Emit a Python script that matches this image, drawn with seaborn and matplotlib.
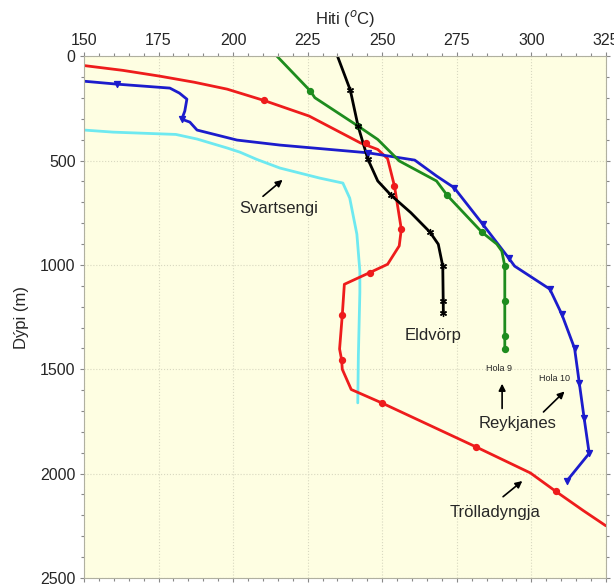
import numpy as np
import pandas as pd
import matplotlib
matplotlib.use('Agg')
import matplotlib.pyplot as plt
import seaborn as sns
from matplotlib.ticker import MultipleLocator

# Temperature (C) vs depth (m) profiles
trol_temp = [150, 163, 175.5, 187, 198, 210.3, 225.5, 242.6, 248.5, 251.8, 254.1, 256.4, 255.7, 251.8, 245.8,
             237.3, 236.6, 235.7, 236.4, 236.6, 239.6, 249.8, 281.3, 299.7, 308.2, 317.4, 325]
trol_depth = [45, 68, 96, 125, 158, 212, 287, 415, 447, 491, 622, 829, 909, 997, 1037,
              1093, 1242, 1403, 1456, 1500, 1597, 1661, 1871, 1997, 2085, 2177, 2250]
trol_mk_temp = [210.3, 244.6, 254.1, 256.4, 245.8, 236.6, 236.4, 249.8, 281.3, 308.2]
trol_mk_depth = [212, 415, 622, 829, 1037, 1242, 1456, 1661, 1871, 2085]

hola9_temp = [214.7, 225.9, 227.4, 241.9, 248.5, 255.7, 268.2, 271.8, 283.4, 288.4, 290.1, 291.1, 291.1, 291.1]
hola9_depth = [0, 167, 199, 335, 399, 502, 598, 667, 843, 900, 934, 1006, 1200, 1403]
hola9_mk_temp = [225.9, 241.9, 271.8, 283.4, 291.1, 291.1, 291.1, 291.1]
hola9_mk_depth = [167, 335, 667, 843, 1006, 1173, 1341, 1403]

eld_temp = [235, 239.3, 241.9, 245.2, 248.5, 253, 259.6, 266, 268.8, 270.3, 270.5]
eld_depth = [0, 163, 335, 494, 598, 667, 750, 843, 901, 1006, 1231]
eld_mk_temp = [239.3, 241.9, 245.2, 253, 266, 270.3, 270.3, 270.5]
eld_mk_depth = [163, 335, 494, 667, 843, 1006, 1173, 1231]

hola10_temp = [150, 161, 178.8, 182, 184.5, 183.8, 182.8, 185.5, 187.9, 201.3, 215.7, 245.2, 260.9, 268.2, 274.1,
               283.7, 292.4, 294.4, 306.2, 310.2, 314.5, 316.1, 317.7, 319.4, 311.9]
hola10_depth = [120, 134, 153, 177, 206, 263, 302, 316, 354, 402, 426, 463, 498, 574, 630,
                805, 967, 1006, 1116, 1236, 1400, 1568, 1734, 1903, 2035]
hola10_mk_temp = [161, 182.8, 245.2, 274.1, 283.7, 292.4, 306.2, 310.2, 314.5, 316.1, 317.7, 319.4, 311.9]
hola10_mk_depth = [134, 302, 463, 630, 805, 967, 1116, 1236, 1400, 1568, 1734, 1903, 2035]

svart_temp = [150, 159.8, 180.8, 187.9, 198, 202.3, 208, 215.7, 229, 236.8, 239.1, 241.5, 242.5, 242.5, 242, 241.8]
svart_depth = [354, 364, 375, 397, 440, 460, 495, 536, 584, 608, 680, 853, 1030, 1132, 1435, 1661]

x_ticks = [150, 175, 200, 225, 250, 275, 300, 325]
y_ticks = [0, 500, 1000, 1500, 2000, 2500]

sns.set_style('ticks')
plt.rcParams['font.family'] = ['Liberation Sans', 'DejaVu Sans']

fig = plt.figure(figsize=(6.14, 5.85), dpi=100)
ax = fig.add_axes([0.1368, 0.012, 0.850, 0.892])
ax.set_facecolor('#fefee2')

series = [
    (svart_temp, svart_depth, None, None, '#6ee9f0', None),
    (trol_temp, trol_depth, trol_mk_temp, trol_mk_depth, '#ee1c1c', 'o'),
    (hola10_temp, hola10_depth, hola10_mk_temp, hola10_mk_depth, '#1c1ccc', 'v'),
    (hola9_temp, hola9_depth, hola9_mk_temp, hola9_mk_depth, '#1e8c1e', 'o'),
    (eld_temp, eld_depth, eld_mk_temp, eld_mk_depth, 'black', (6, 2, 0)),
]
for t, d, mt, md, col, mk in series:
    sns.lineplot(x=t, y=d, sort=False, estimator=None, color=col, lw=2, ax=ax)
    if mt is not None:
        sns.scatterplot(x=mt, y=md, color=col, marker=mk, s=18, linewidth=1.0,
                        edgecolor=col, ax=ax, zorder=3)

ax.set_xlim(150, 325)
ax.set_ylim(2500, 0)
ax.set_xticks(x_ticks)
ax.set_yticks(y_ticks)
ax.xaxis.set_minor_locator(MultipleLocator(5))
ax.yaxis.set_minor_locator(MultipleLocator(100))
ax.xaxis.set_ticks_position('both')
ax.yaxis.set_ticks_position('both')
ax.xaxis.set_label_position('top')
ax.tick_params(axis='x', labeltop=True, labelbottom=False)
ax.tick_params(which='both', direction='out', length=3, width=0.8, color='#888888',
               labelsize=11.5, pad=3)
ax.tick_params(which='minor', length=2.5)
ax.grid(True, which='major', color='#d8d8c0', ls=':', lw=0.8)
for s in ax.spines.values():
    s.set_color('#b0b0a0')
    s.set_linewidth(0.8)

ax.set_xlabel('Hiti ($^{o}$C)', fontsize=12, labelpad=6)
ax.set_ylabel('Dýpi (m)', fontsize=12, labelpad=8)

arrow = dict(arrowstyle='-|>', color='black', lw=1.2, mutation_scale=10)
ax.annotate('', xy=(217.3, 584), xytext=(209.3, 680), arrowprops=arrow)
ax.text(215.3, 728, 'Svartsengi', fontsize=12, ha='center', va='center')
ax.text(266.9, 1339, 'Eldvörp', fontsize=12, ha='center', va='center')
ax.text(289.2, 1495, 'Hola 9', fontsize=6.5, ha='center', va='center')
ax.text(307.6, 1545, 'Hola 10', fontsize=6.5, ha='center', va='center')
ax.annotate('', xy=(290.2, 1556), xytext=(290.2, 1701), arrowprops=arrow)
ax.annotate('', xy=(311.8, 1597), xytext=(303.4, 1714), arrowprops=arrow)
ax.text(295.3, 1758, 'Reykjanes', fontsize=12, ha='center', va='center')
ax.annotate('', xy=(297.7, 2027), xytext=(289.8, 2119), arrowprops=arrow)
ax.text(287.9, 2184, 'Trölladyngja', fontsize=12, ha='center', va='center')

fig.savefig('out.png', dpi=100)
